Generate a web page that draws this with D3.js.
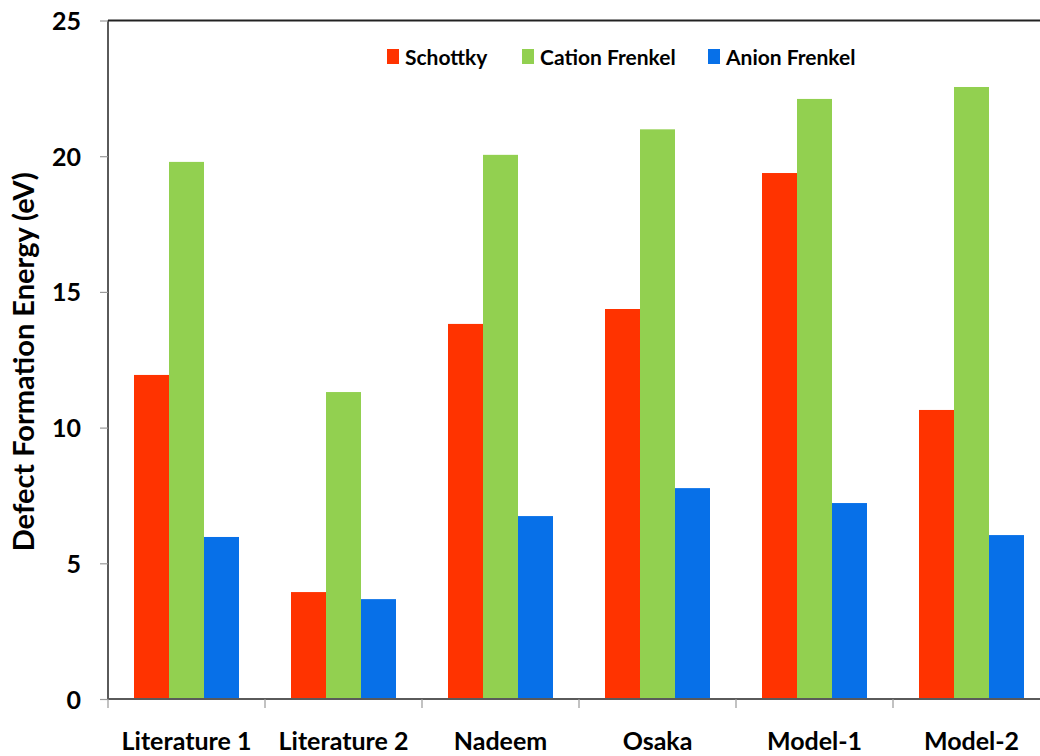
<!DOCTYPE html>
<html><head><meta charset="utf-8">
<script src="https://cdn.jsdelivr.net/npm/d3@7"></script>
<style>
body{margin:0;background:#fff;}
svg{display:block;font-family:Lato,"Open Sans",sans-serif;font-weight:bold;}
</style></head>
<body><svg id="c" width="1040" height="756"></svg>
<script>
const categories = ["Literature 1","Literature 2","Nadeem","Osaka","Model-1","Model-2"];
const seriesNames = ["Schottky","Cation Frenkel","Anion Frenkel"];
const schottky = [11.94, 3.94, 13.82, 14.37, 19.38, 10.65];
const cationFrenkel = [19.79, 11.31, 20.05, 20.99, 22.11, 22.55];
const anionFrenkel = [5.97, 3.68, 6.74, 7.77, 7.22, 6.04];
const yTicks = [0,5,10,15,20,25];
const colors = ["#ff3300","#92d050","#0770e8"];

(function(){
const seriesValues = [schottky, cationFrenkel, anionFrenkel];
const svg = d3.select("#c");
const pLeft = 108, pBottom = 699, pTop = 20.5;
const bandW = 157;
const x0 = d3.scaleBand().domain(categories).range([pLeft, pLeft + bandW*categories.length]).padding(0);
const x1 = d3.scaleBand().domain(seriesNames).range([26, 131]).padding(0);
const y = d3.scaleLinear().domain([0,25]).range([pBottom, pTop]);

// bars
categories.forEach((c,i)=>{
  const g = svg.append("g").attr("transform",`translate(${x0(c)},0)`);
  seriesNames.forEach((s,j)=>{
    const v = seriesValues[j][i];
    g.append("rect").attr("x",x1(s)).attr("width",x1.bandwidth())
      .attr("y",y(v)).attr("height",y(0)-y(v)).attr("fill",colors[j]);
  });
});

// y axis
const yAxis = d3.axisLeft(y).tickValues(yTicks).tickSize(8).tickPadding(19);
const ya = svg.append("g").attr("transform",`translate(${pLeft},0)`).call(yAxis);
ya.select(".domain").attr("stroke","#5a5a5a").attr("stroke-width",2).attr("d",`M0,${pTop}V${pBottom}`);
ya.selectAll(".tick line").attr("stroke","#999").attr("stroke-width",1.2);
ya.selectAll(".tick text").attr("font-size",25).attr("fill","#000").attr("font-family","Lato,sans-serif").attr("font-weight","bold").attr("dy","0.36em");

// top border
svg.append("line").attr("x1",pLeft).attr("x2",1040).attr("y1",pTop).attr("y2",pTop).attr("stroke","#222").attr("stroke-width",2);

// x axis
const xAxis = d3.axisBottom(x0).tickSize(0).tickPadding(0);
const xa = svg.append("g").attr("transform",`translate(0,${pBottom})`).call(xAxis);
xa.select(".domain").attr("stroke","#5a5a5a").attr("stroke-width",2).attr("d",`M${pLeft},0H1040`);
xa.selectAll(".tick text").attr("font-size",25).attr("fill","#000").attr("font-family","Lato,sans-serif").attr("font-weight","bold").attr("y",51).attr("dy","0");
// category boundary ticks
const bounds = d3.range(categories.length+1).map(i=>pLeft + i*bandW).filter(v=>v<=1040);
svg.append("g").selectAll("line").data(bounds).join("line")
  .attr("x1",d=>d).attr("x2",d=>d).attr("y1",pBottom).attr("y2",pBottom+9)
  .attr("stroke","#999").attr("stroke-width",1.2);

// y title
svg.append("text").attr("transform",`translate(34,${(pTop+pBottom)/2+2}) rotate(-90)`)
  .attr("text-anchor","middle").attr("font-size",29).attr("fill","#000").text("Defect Formation Energy (eV)");

// legend
const legendX = [387, 522, 708];
const lg = svg.append("g");
seriesNames.forEach((s,j)=>{
  lg.append("rect").attr("x",legendX[j]).attr("y",49).attr("width",12).attr("height",15).attr("fill",colors[j]);
  lg.append("text").attr("x",legendX[j]+18).attr("y",65).attr("font-size",21).attr("fill","#000").text(s);
});
})();
</script></body></html>
